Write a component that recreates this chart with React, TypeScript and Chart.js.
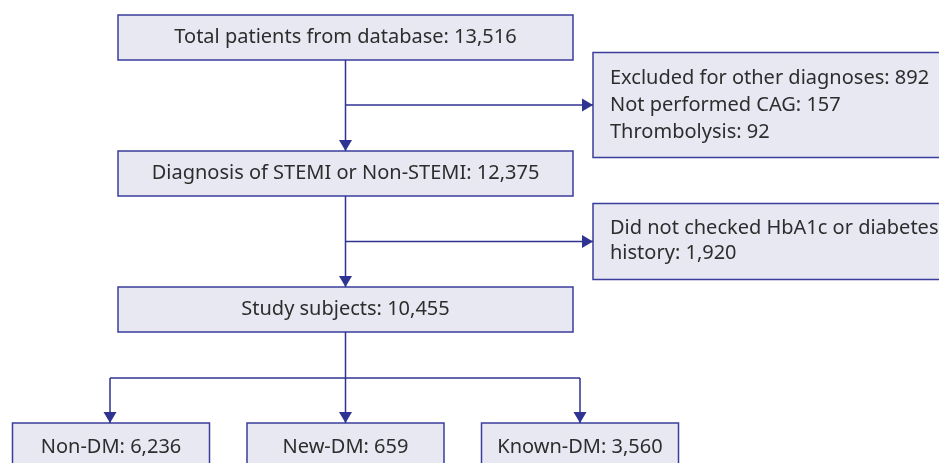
import React, { useEffect, useRef } from "react";
import { Chart, registerables } from "chart.js";

Chart.register(...registerables);

// ---- data ----
const stageTitles = ["Total patients from database", "Diagnosis of STEMI or Non-STEMI", "Study subjects"];
const stageCounts = [13516, 12375, 10455];
const groupTitles = ["Non-DM", "New-DM", "Known-DM"];
const groupCounts = [6236, 659, 3560];
const exclusion1Reasons = ["Excluded for other diagnoses", "Not performed CAG", "Thrombolysis"];
const exclusion1Counts = [892, 157, 92];
const exclusion2Reasons = ["Did not checked HbA1c or diabetes history"];
const exclusion2Counts = [1920];

// ---- layout (canvas units) ----
const W = 939;
const H = 463;
const stageBoxes = [
  { x0: 118, x1: 573, y0: 15, y1: 60 },
  { x0: 118, x1: 573, y0: 151, y1: 196 },
  { x0: 118, x1: 573, y0: 287, y1: 332 },
];
const groupBoxes = [
  { x0: 12.5, x1: 209.5, y0: 423, y1: 468 },
  { x0: 247, x1: 444, y0: 423, y1: 468 },
  { x0: 481.5, x1: 678.5, y0: 423, y1: 468 },
];
const sideBoxes = [
  { x0: 593, x1: 980, y0: 52.5, y1: 157.5, tx: 610, ty: 78, lh: 27 },
  { x0: 593, x1: 980, y0: 203.5, y1: 279.5, tx: 610, ty: 228, lh: 25 },
];
const splitY = 378;

const FILL = "#e8e8f3";
const STROKE = "#3a3d9c";
const LINE = "#2f3391";
const TEXT = "#2d2d2d";
const FONT = '20px "Noto Sans", sans-serif';

const fmt = (n: number) => n.toLocaleString("en-US");

type Conn = { pts: { x: number; y: number }[]; arrow: "down" | "right" | null };

function buildConnectors(): Conn[] {
  const cx = (stageBoxes[0].x0 + stageBoxes[0].x1) / 2;
  const conns: Conn[] = [];
  for (let i = 0; i < stageBoxes.length - 1; i++) {
    conns.push({ pts: [{ x: cx, y: stageBoxes[i].y1 }, { x: cx, y: stageBoxes[i + 1].y0 }], arrow: "down" });
    const side = sideBoxes[i];
    const my = (side.y0 + side.y1) / 2;
    conns.push({ pts: [{ x: cx, y: my }, { x: side.x0, y: my }], arrow: "right" });
  }
  conns.push({ pts: [{ x: cx, y: stageBoxes[2].y1 }, { x: cx, y: groupBoxes[1].y0 }], arrow: "down" });
  const gx = [110, cx, 580];
  conns.push({ pts: [{ x: gx[0], y: splitY }, { x: gx[2], y: splitY }], arrow: null });
  conns.push({ pts: [{ x: gx[0], y: splitY }, { x: gx[0], y: groupBoxes[0].y0 }], arrow: "down" });
  conns.push({ pts: [{ x: gx[2], y: splitY }, { x: gx[2], y: groupBoxes[2].y0 }], arrow: "down" });
  return conns;
}

export default function App() {
  const ref = useRef<HTMLCanvasElement | null>(null);

  useEffect(() => {
    if (!ref.current) return;
    const conns = buildConnectors();

    const flowPlugin = {
      id: "flow",
      beforeDatasetsDraw(chart: any) {
        const { ctx, scales } = chart;
        const xs = scales.x;
        const ys = scales.y;
        const all = [...stageBoxes, ...groupBoxes, ...sideBoxes];
        ctx.save();
        for (const b of all) {
          const px0 = xs.getPixelForValue(b.x0);
          const px1 = xs.getPixelForValue(b.x1);
          const py0 = ys.getPixelForValue(b.y0);
          const py1 = ys.getPixelForValue(b.y1);
          ctx.fillStyle = FILL;
          ctx.fillRect(px0, py0, px1 - px0, py1 - py0);
          ctx.strokeStyle = STROKE;
          ctx.lineWidth = 1.5;
          ctx.strokeRect(px0, py0, px1 - px0, py1 - py0);
        }
        ctx.restore();
      },
      afterDatasetsDraw(chart: any) {
        const { ctx, scales } = chart;
        const xs = scales.x;
        const ys = scales.y;
        ctx.save();
        ctx.fillStyle = LINE;
        for (const c of conns) {
          if (!c.arrow) continue;
          const end = c.pts[c.pts.length - 1];
          const px = xs.getPixelForValue(end.x);
          const py = ys.getPixelForValue(end.y);
          ctx.beginPath();
          if (c.arrow === "down") {
            ctx.moveTo(px, py);
            ctx.lineTo(px - 6.5, py - 11);
            ctx.lineTo(px + 6.5, py - 11);
          } else {
            ctx.moveTo(px, py);
            ctx.lineTo(px - 11, py - 6.5);
            ctx.lineTo(px - 11, py + 6.5);
          }
          ctx.closePath();
          ctx.fill();
        }
        ctx.font = FONT;
        ctx.fillStyle = TEXT;
        ctx.textBaseline = "middle";
        ctx.textAlign = "center";
        stageBoxes.forEach((b, i) => {
          const px = xs.getPixelForValue((b.x0 + b.x1) / 2);
          const py = ys.getPixelForValue((b.y0 + b.y1) / 2 - 0.5);
          ctx.fillText(`${stageTitles[i]}: ${fmt(stageCounts[i])}`, px, py);
        });
        groupBoxes.forEach((b, i) => {
          const px = xs.getPixelForValue((b.x0 + b.x1) / 2);
          const py = ys.getPixelForValue(b.y0 + 24);
          ctx.fillText(`${groupTitles[i]}: ${fmt(groupCounts[i])}`, px, py);
        });
        ctx.textAlign = "left";
        const sideLines: string[][] = [
          exclusion1Reasons.map((r, i) => `${r}: ${fmt(exclusion1Counts[i])}`),
          [],
        ];
        const words = `${exclusion2Reasons[0]}: ${fmt(exclusion2Counts[0])}`.split(" ");
        let cur = "";
        for (const w of words) {
          const t = cur ? cur + " " + w : w;
          if (ctx.measureText(t).width > 345 && cur) {
            sideLines[1].push(cur);
            cur = w;
          } else cur = t;
        }
        if (cur) sideLines[1].push(cur);
        sideBoxes.forEach((b, i) => {
          sideLines[i].forEach((line, j) => {
            ctx.fillText(line, xs.getPixelForValue(b.tx), ys.getPixelForValue(b.ty + j * b.lh));
          });
        });
        ctx.restore();
      },
    };

    const chart = new Chart(ref.current, {
      type: "scatter",
      data: {
        datasets: conns.map((c) => ({
          data: c.pts,
          showLine: true,
          borderColor: LINE,
          borderWidth: 1.5,
          pointRadius: 0,
          fill: false,
        })),
      },
      options: {
        animation: false,
        responsive: true,
        maintainAspectRatio: false,
        layout: { padding: 0 },
        plugins: { legend: { display: false }, tooltip: { enabled: false } },
        scales: {
          x: { type: "linear", min: 0, max: W, display: false },
          y: { type: "linear", min: 0, max: H, reverse: true, display: false },
        },
      },
      plugins: [flowPlugin],
    } as any);
    return () => chart.destroy();
  }, []);

  return (
    <div style={{ position: "absolute", left: 0, top: 0, width: W, height: H, background: "#fff" }}>
      <canvas ref={ref} />
    </div>
  );
}
